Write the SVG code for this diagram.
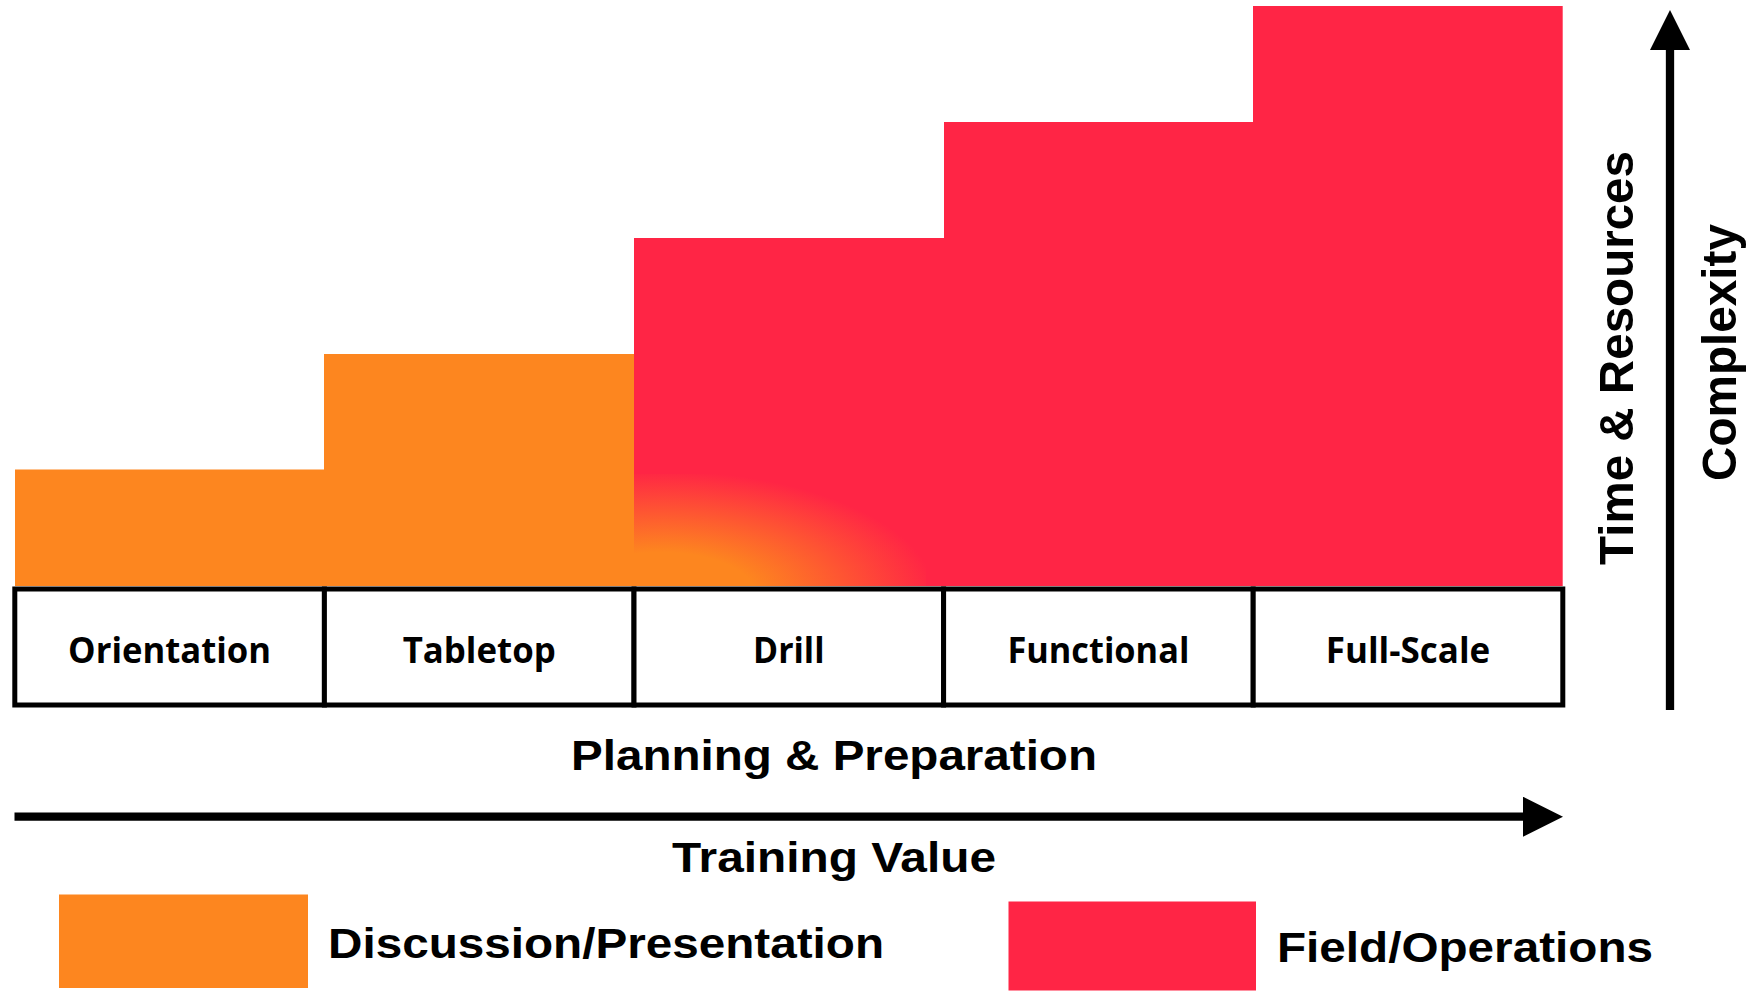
<svg xmlns="http://www.w3.org/2000/svg" width="1755" height="991" viewBox="0 0 1755 991">
  <style>
    .orange { fill: #FD861F; }
    .red { fill: #FF2545; }
    .cell { fill: #FFFFFF; stroke: #000000; stroke-width: 5; }
    .cellText { font-family: "Open Sans", "Liberation Sans", sans-serif; font-weight: 700; font-size: 36px; fill: #000000; text-anchor: middle; }
    .axisText { font-family: "Liberation Sans", Arial, sans-serif; font-weight: 700; font-size: 43px; fill: #000000; }
    .vText { font-family: "Liberation Sans", Arial, sans-serif; font-weight: 700; font-size: 49px; fill: #000000; text-anchor: middle; }
    .axis { stroke: #000000; stroke-width: 8.3; fill: none; }
  </style>
  <defs>
    <marker id="head" markerUnits="userSpaceOnUse" markerWidth="40" markerHeight="40" refX="0" refY="20" orient="auto" viewBox="0 0 40 40">
      <path d="M0,0 L40,20 L0,40 Z" fill="#000000"/>
    </marker>
    <radialGradient id="blend" gradientUnits="userSpaceOnUse" cx="0" cy="0" r="1" gradientTransform="translate(660 596) scale(275 125)">
      <stop offset="0" stop-color="#FD861F"/>
      <stop offset="0.35" stop-color="#FD861F"/>
      <stop offset="1" stop-color="#FF2545"/>
    </radialGradient>
  </defs>
  <rect width="1755" height="991" fill="#FFFFFF"/>

  <g id="steps">
    <rect id="step-orientation" class="orange" x="15" y="469.5" width="309.4" height="116.5"/>
    <rect id="step-tabletop" class="orange" x="324" y="354" width="310" height="232"/>
    <path id="step-field" class="red" d="M634,586 L634,238 L944,238 L944,122 L1253,122 L1253,6 L1562.7,6 L1562.7,586 Z"/>
    <rect id="step-blend" x="634" y="474" width="292" height="112" fill="url(#blend)"/>
  </g>

  <g id="cell-orientation">
    <rect class="cell" x="14.8" y="589" width="309.6" height="116"/>
    <text class="cellText" x="169.6" y="662.5" textLength="203" lengthAdjust="spacingAndGlyphs">Orientation</text>
  </g>
  <g id="cell-tabletop">
    <rect class="cell" x="324.4" y="589" width="309.6" height="116"/>
    <text class="cellText" x="479.2" y="662.5" textLength="153" lengthAdjust="spacingAndGlyphs">Tabletop</text>
  </g>
  <g id="cell-drill">
    <rect class="cell" x="634" y="589" width="309.6" height="116"/>
    <text class="cellText" x="788.8" y="662.5" textLength="71.5" lengthAdjust="spacingAndGlyphs">Drill</text>
  </g>
  <g id="cell-functional">
    <rect class="cell" x="943.6" y="589" width="309.6" height="116"/>
    <text class="cellText" x="1098.4" y="662.5" textLength="182" lengthAdjust="spacingAndGlyphs">Functional</text>
  </g>
  <g id="cell-fullscale">
    <rect class="cell" x="1253.2" y="589" width="309.6" height="116"/>
    <text class="cellText" x="1408" y="662.5" textLength="164.6" lengthAdjust="spacingAndGlyphs">Full-Scale</text>
  </g>

  <g id="connectors">
    <line class="axis" x1="14.5" y1="816.7" x2="1523" y2="816.7" marker-end="url(#head)"/>
    <line class="axis" x1="1670" y1="710" x2="1670" y2="50" marker-end="url(#head)"/>
  </g>

  <g id="axis-labels">
    <text class="axisText" x="834" y="770" text-anchor="middle" textLength="526" lengthAdjust="spacingAndGlyphs">Planning &amp; Preparation</text>
    <text class="axisText" x="834" y="872" text-anchor="middle" textLength="324" lengthAdjust="spacingAndGlyphs">Training Value</text>
    <text class="vText" transform="translate(1633 358) rotate(-90)" x="0" y="0" textLength="414" lengthAdjust="spacingAndGlyphs">Time &amp; Resources</text>
    <text class="vText" transform="translate(1736 352.5) rotate(-90)" x="0" y="0" textLength="257" lengthAdjust="spacingAndGlyphs">Complexity</text>
  </g>

  <g id="legend-discussion">
    <rect class="orange" x="59" y="894.5" width="249" height="93.5"/>
    <text class="axisText" x="328" y="958" textLength="556" lengthAdjust="spacingAndGlyphs">Discussion/Presentation</text>
  </g>
  <g id="legend-field">
    <rect class="red" x="1008.5" y="901.5" width="247.5" height="89"/>
    <text class="axisText" x="1277" y="962" textLength="376" lengthAdjust="spacingAndGlyphs">Field/Operations</text>
  </g>
</svg>
